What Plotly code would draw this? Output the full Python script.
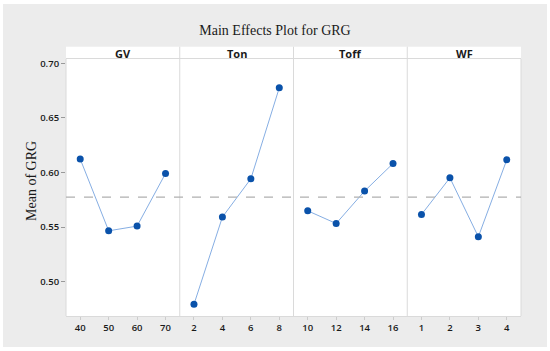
import plotly.graph_objects as go
from plotly.subplots import make_subplots

factors = ["GV", "Ton", "Toff", "WF"]
levels = {
    "GV": ["40", "50", "60", "70"],
    "Ton": ["2", "4", "6", "8"],
    "Toff": ["10", "12", "14", "16"],
    "WF": ["1", "2", "3", "4"],
}
means = {
    "GV": [0.6123, 0.5466, 0.5509, 0.5991],
    "Ton": [0.4793, 0.5592, 0.5942, 0.6775],
    "Toff": [0.5649, 0.5533, 0.5830, 0.6082],
    "WF": [0.5615, 0.5951, 0.5411, 0.6116],
}
grand_mean = 0.5775
y_ticks = [0.50, 0.55, 0.60, 0.65, 0.70]

W, H = 550, 351
L, R, T, B = 66, 29, 59, 35
pw = W - L - R
ph = H - T - B

def px_x(p):
    return (p - L) / pw

def px_y(p):
    return (H - B - p) / ph

fig = make_subplots(rows=1, cols=4, shared_yaxes=True, horizontal_spacing=0)

line_col = "#86aee3"
mark_col = "#0a52aa"
border_col = "#dadada"
tick_font = dict(family="Open Sans", size=9.5, color="#1a1a1a", weight=600)

for i, f in enumerate(factors):
    fig.add_trace(go.Scatter(
        x=levels[f], y=means[f], mode="lines+markers",
        line=dict(color=line_col, width=1),
        marker=dict(color=mark_col, size=7),
        showlegend=False, hoverinfo="x+y",
    ), row=1, col=i + 1)
    fig.update_xaxes(type="category", range=[-0.5, 3.5], showgrid=False,
                     zeroline=False, showline=True, mirror=True,
                     linecolor=border_col, linewidth=1,
                     ticks="outside", ticklen=3, tickcolor="#cccccc",
                     tickfont=tick_font, row=1, col=i + 1)

fig.update_yaxes(range=[0.4686, 0.7039], tickvals=y_ticks,
                 ticktext=[f"{v:.2f}" for v in y_ticks],
                 showgrid=False, zeroline=False, showline=False)
fig.update_yaxes(ticks="outside", ticklen=4, tickcolor="#999999",
                 tickfont=tick_font, row=1, col=1)

shapes = []
# outer gray frame
shapes.append(dict(type="rect", xref="paper", yref="paper",
                   x0=px_x(3), x1=px_x(547), y0=px_y(347), y1=px_y(4),
                   fillcolor="#ececec", line=dict(width=0), layer="below"))
# white plot area
shapes.append(dict(type="rect", xref="paper", yref="paper",
                   x0=0, x1=1, y0=0, y1=1,
                   fillcolor="white", line=dict(width=0), layer="below"))
# strip
shapes.append(dict(type="rect", xref="paper", yref="paper",
                   x0=0, x1=1, y0=1, y1=px_y(46.7),
                   fillcolor="white", line=dict(width=0), layer="below"))
# panel borders / dividers
for k in range(0, 5):
    shapes.append(dict(type="line", xref="paper", yref="paper",
                       x0=k / 4, x1=k / 4, y0=0,
                       y1=px_y(46.7) if 0 < k < 4 else 1,
                       line=dict(color=border_col, width=1)))
# grand mean reference line
shapes.append(dict(type="line", xref="paper", yref="y",
                   x0=0, x1=1, y0=grand_mean, y1=grand_mean,
                   line=dict(color="#b0b0b0", width=1.2, dash="dash")))

annotations = []
for i, f in enumerate(factors):
    annotations.append(dict(text=f, xref="paper", yref="paper",
                            x=(i + 0.5) / 4, y=px_y(53), showarrow=False,
                            xanchor="center", yanchor="middle",
                            font=dict(family="Open Sans", size=11,
                                      color="#1a1a1a", weight=700)))
annotations.append(dict(text="Mean of GRG", xref="paper", yref="paper",
                        x=px_x(31), y=px_y(181), showarrow=False,
                        textangle=-90, xanchor="center", yanchor="middle",
                        font=dict(family="Liberation Serif", size=14,
                                  color="#1a1a1a")))

fig.update_layout(
    width=W, height=H,
    margin=dict(l=L, r=R, t=T, b=B, pad=0),
    paper_bgcolor="white", plot_bgcolor="white",
    title=dict(text="Main Effects Plot for GRG", x=0.5, xanchor="center",
               y=1 - 30 / H, yanchor="middle",
               font=dict(family="Liberation Serif", size=14, color="#1a1a1a")),
    shapes=shapes, annotations=annotations,
)

fig.write_html("out.html", config={"displayModeBar": False},
               post_script="document.body.style.margin='0';document.body.style.padding='0';")
